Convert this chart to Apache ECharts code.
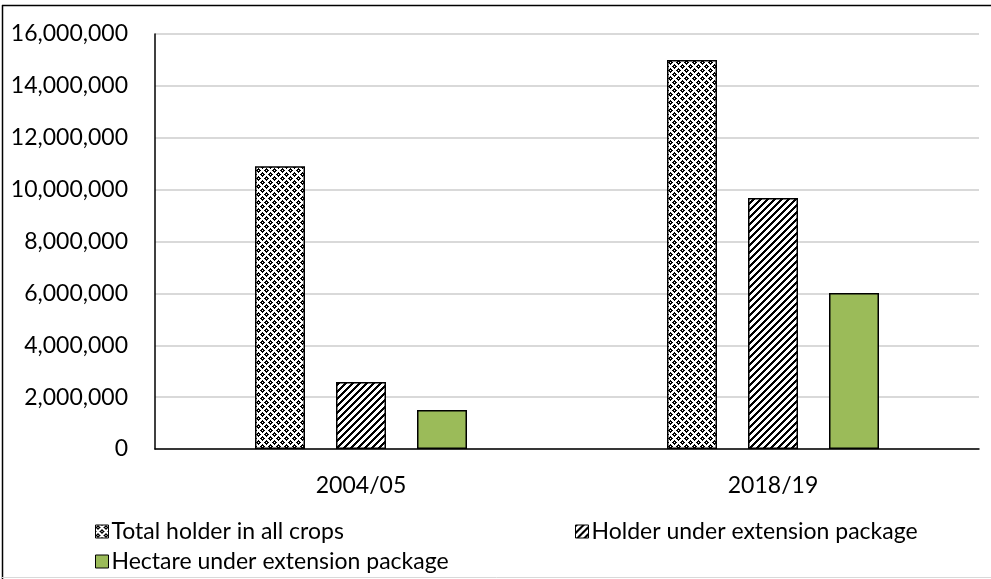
<!DOCTYPE html>
<html>
<head>
<meta charset="utf-8">
<script src="https://cdn.jsdelivr.net/npm/echarts@6/dist/echarts.min.js"></script>
<style>
  html, body { margin: 0; padding: 0; background: #fff; }
  #chart { width: 991px; height: 579px; }
</style>
</head>
<body>
<div id="chart"></div>
<script>
// Chart data
const categories = ['2004/05', '2018/19'];
const seriesNames = ['Total holder in all crops', 'Holder under extension package', 'Hectare under extension package'];
const totalHolders = [10900000, 15000000];
const holdersExtension = [2580000, 9680000];
const hectaresExtension = [1500000, 6010000];
const yTicks = [0, 2000000, 4000000, 6000000, 8000000, 10000000, 12000000, 14000000, 16000000];

const FONT = 'Lato, "Open Sans", sans-serif';

// Dotted-diamond fill tile: black diamonds on a lattice, white crosses between
function diamondTile() {
  const n = 8;
  const c = document.createElement('canvas');
  c.width = n; c.height = n;
  const g = c.getContext('2d');
  g.fillStyle = '#ffffff';
  g.fillRect(0, 0, n, n);
  g.fillStyle = '#000000';
  const centers = [[2, 2], [6, 6], [6, -2], [-2, 6], [10, 2], [2, 10], [-2, -2], [10, 10], [6, 14], [14, 6]];
  for (let x = 0; x < n; x++) {
    for (let y = 0; y < n; y++) {
      const hit = centers.some(p => Math.abs(x - p[0]) + Math.abs(y - p[1]) <= 2 && !(x === p[0] && y === p[1]));
      if (hit) g.fillRect(x, y, 1, 1);
    }
  }
  return c;
}

// Wide upward-diagonal stripes tile
function stripeTile() {
  const n = 7;
  const c = document.createElement('canvas');
  c.width = n; c.height = n;
  const g = c.getContext('2d');
  g.fillStyle = '#ffffff';
  g.fillRect(0, 0, n, n);
  g.fillStyle = '#000000';
  for (let x = 0; x < n; x++) {
    const y = n - 1 - x;
    g.fillRect(x, y, 1, 1);
    g.fillRect(x, (y + 1) % n, 1, 1);
    g.fillRect(x, (y + 2) % n, 1, 1);
  }
  return c;
}

const fillDiamond = { image: diamondTile(), repeat: 'repeat' };
const fillStripe = { image: stripeTile(), repeat: 'repeat' };
const fillGreen = '#9BBB59';

const fmt = v => v.toLocaleString('en-US');

const chart = echarts.init(document.getElementById('chart'), null, { renderer: 'canvas' });

function barSeries(name, data, fill) {
  return {
    name: name,
    type: 'bar',
    data: data,
    barWidth: 50,
    barGap: '62%',
    itemStyle: { color: fill, borderColor: '#000', borderWidth: 1.5 },
    emphasis: { disabled: true },
    animation: false
  };
}

function legendAt(name, left, top, fill) {
  return {
    left: left, top: top,
    orient: 'horizontal',
    data: [{ name: name, icon: 'rect', itemStyle: { color: fill, borderColor: '#000', borderWidth: 1 } }],
    itemWidth: 13, itemHeight: 13, itemGap: 4,
    selectedMode: false,
    textStyle: { fontFamily: FONT, fontSize: 23, color: '#000', padding: [0, 0, 0, -2] }
  };
}

chart.setOption({
  animation: false,
  backgroundColor: '#ffffff',
  grid: { left: 155, right: 12, top: 34, bottom: 130, containLabel: false },
  xAxis: {
    type: 'category',
    data: categories,
    axisLine: { show: true, lineStyle: { color: '#000', width: 1.5 } },
    axisTick: { show: false },
    axisLabel: { fontFamily: FONT, fontSize: 23, color: '#000', margin: 25 }
  },
  yAxis: {
    type: 'value',
    min: yTicks[0],
    max: yTicks[yTicks.length - 1],
    interval: 2000000,
    axisLine: { show: true, lineStyle: { color: '#000', width: 1.5 } },
    axisTick: { show: false },
    splitLine: { show: true, lineStyle: { color: '#d9d9d9', width: 2 } },
    axisLabel: { fontFamily: FONT, fontSize: 23, color: '#000', margin: 27, formatter: fmt }
  },
  legend: [
    legendAt(seriesNames[0], 90, 515, fillDiamond),
    legendAt(seriesNames[1], 570, 515, fillStripe),
    legendAt(seriesNames[2], 90, 545, fillGreen)
  ],
  graphic: [
    { type: 'line', shape: { x1: 2.5, y1: 5, x2: 2.5, y2: 579 }, style: { stroke: '#000', lineWidth: 1.5 } },
    { type: 'line', shape: { x1: 2, y1: 5.5, x2: 991, y2: 5.5 }, style: { stroke: '#000', lineWidth: 1.5 } },
    { type: 'line', shape: { x1: 2, y1: 577.5, x2: 991, y2: 577.5 }, style: { stroke: '#d9d9d9', lineWidth: 1 } }
  ],
  series: [
    barSeries(seriesNames[0], totalHolders, fillDiamond),
    barSeries(seriesNames[1], holdersExtension, fillStripe),
    barSeries(seriesNames[2], hectaresExtension, fillGreen)
  ]
});
</script>
</body>
</html>
